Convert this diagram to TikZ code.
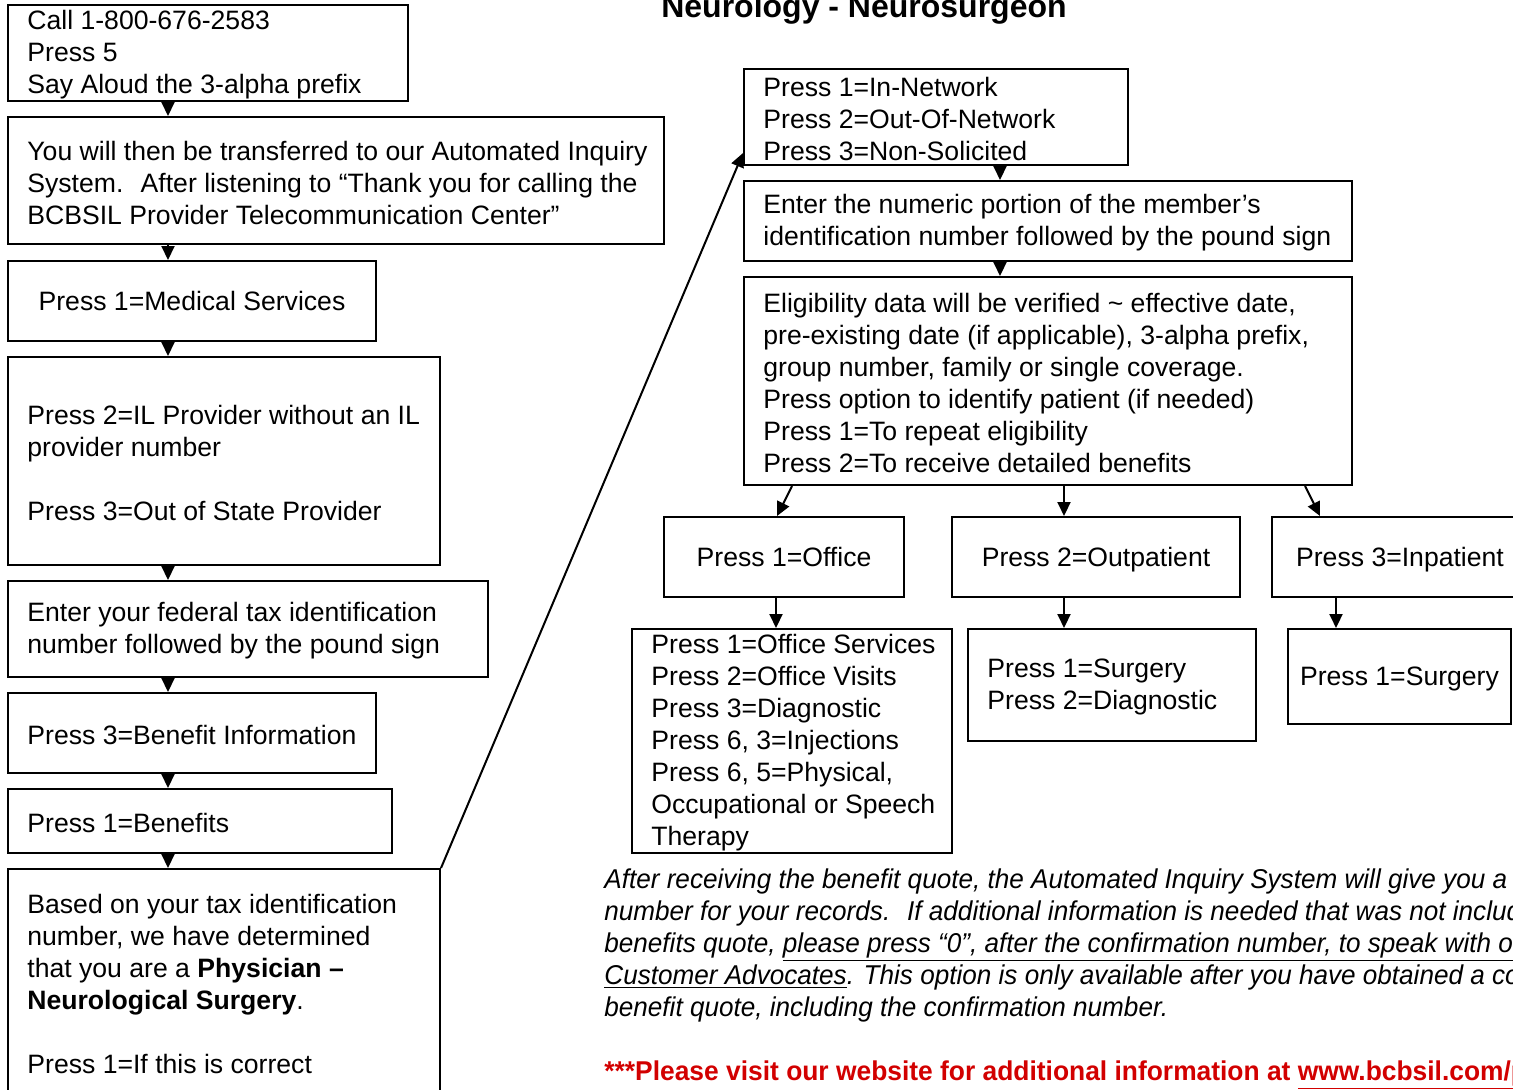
\documentclass[tikz,border=0pt]{standalone}
\usepackage{fontspec}
\setmainfont{Liberation Sans}
\newfontfamily\narrowfont{Liberation Sans}[FakeStretch=0.96]
\newfontfamily\narrowboldfont{Liberation Sans Bold}[FakeStretch=0.97]
\usetikzlibrary{arrows.meta}
\definecolor{linkred}{RGB}{210,0,0}

\begin{document}
\begin{tikzpicture}[x=0.5pt, y=-0.5pt]
    % Stili
    \tikzstyle{menubox}=[draw, line width=1pt, inner sep=0pt, align=center, text height=11.5pt, text depth=2.5pt, font=\fontsize{13.3}{16}\selectfont]
    \tikzstyle{menutext}=[inner xsep=10pt, inner ysep=0pt, yshift=-1pt, align=left, font=\fontsize{13.3}{16}\selectfont]
    \tikzstyle{flow}=[-{Triangle[length=7pt, width=6.5pt]}, line width=1pt]
    \tikzstyle{note}=[inner sep=0pt, align=left, font=\narrowfont\itshape\fontsize{13.6}{16}\selectfont]

    \useasboundingbox (0,0) rectangle (1513,1089);
    \clip (0,0) rectangle (1513,1089);

    % Titolo
    \node[anchor=base, font=\fontsize{16}{19}\selectfont\bfseries] (title) at (864,17) {Neurology - Neurosurgeon};

    % Colonna sinistra
    \node[menubox, minimum width=200pt, minimum height=48pt] (call) at (208,53) {};
    \node[menutext, anchor=west] (call-t) at (call.west) {Call 1-800-676-2583\\Press 5\\Say Aloud the 3-alpha prefix};
    \node[menubox, minimum width=328pt, minimum height=63.5pt] (inquiry) at (336,180.5) {};
    \node[menutext, anchor=west] (inquiry-t) at (inquiry.west) {You will then be transferred to our Automated Inquiry\\System.~ After listening to “Thank you for calling the\\BCBSIL Provider Telecommunication Center”};
    \node[menubox, minimum width=184pt, minimum height=40pt] (medical) at (192,301) {Press 1=Medical Services};
    \node[menubox, minimum width=216pt, minimum height=104pt] (provider) at (224,461) {};
    \node[menutext, anchor=west] (provider-t) at (provider.west) {Press 2=IL Provider without an IL\\provider number\\[16pt]Press 3=Out of State Provider};
    \node[menubox, minimum width=240pt, minimum height=48pt] (taxid) at (248,629) {};
    \node[menutext, anchor=west] (taxid-t) at (taxid.west) {Enter your federal tax identification\\number followed by the pound sign};
    \node[menubox, minimum width=184pt, minimum height=40pt] (benefit) at (192,733) {};
    \node[menutext, anchor=west] (benefit-t) at (benefit.west) {Press 3=Benefit Information};
    \node[menubox, minimum width=192pt, minimum height=32pt] (benefits) at (200,821) {};
    \node[menutext, anchor=west] (benefits-t) at (benefits.west) {Press 1=Benefits};
    \node[menubox, minimum width=216pt, minimum height=113pt] (result) at (224,982) {};
    \node[menutext, anchor=west] (result-t) at (result.west) {Based on your tax identification\\number, we have determined\\that you are a \textbf{Physician –}\\\textbf{Neurological Surgery}.\\[16pt]Press 1=If this is correct};

    % Frecce colonna sinistra
    \draw[flow] (call.south -| 168,0) -- (inquiry.north -| 168,0);
    \draw[flow] (inquiry.south -| 168,0) -- (medical.north -| 168,0);
    \draw[flow] (medical.south -| 168,0) -- (provider.north -| 168,0);
    \draw[flow] (provider.south -| 168,0) -- (taxid.north -| 168,0);
    \draw[flow] (taxid.south -| 168,0) -- (benefit.north -| 168,0);
    \draw[flow] (benefit.south -| 168,0) -- (benefits.north -| 168,0);
    \draw[flow] (benefits.south -| 168,0) -- (result.north -| 168,0);

    % Colonna destra
    \node[menubox, minimum width=192pt, minimum height=48pt] (network) at (936,117) {};
    \node[menutext, anchor=west] (network-t) at (network.west) {Press 1=In-Network\\Press 2=Out-Of-Network\\Press 3=Non-Solicited};
    \node[menubox, minimum width=304pt, minimum height=40pt] (member) at (1048,221) {};
    \node[menutext, anchor=west] (member-t) at (member.west) {Enter the numeric portion of the member’s\\identification number followed by the pound sign};
    \node[menubox, minimum width=304pt, minimum height=104pt] (elig) at (1048,381) {};
    \node[menutext, anchor=west] (elig-t) at (elig.west) {Eligibility data will be verified \textasciitilde{} effective date,\\pre-existing date (if applicable), 3-alpha prefix,\\group number, family or single coverage.\\Press option to identify patient (if needed)\\Press 1=To repeat eligibility\\Press 2=To receive detailed benefits};

    % Tipo di servizio
    \node[menubox, minimum width=120pt, minimum height=40pt] (office) at (784,557) {Press 1=Office};
    \node[menubox, minimum width=144pt, minimum height=40pt] (outpat) at (1096,557) {Press 2=Outpatient};
    \node[menubox, minimum width=128pt, minimum height=40pt] (inpat) at (1400,557) {Press 3=Inpatient};
    \node[menubox, minimum width=160pt, minimum height=112pt] (officeopt) at (792,741) {};
    \node[menutext, anchor=west] (officeopt-t) at (officeopt.west) {Press 1=Office Services\\Press 2=Office Visits\\Press 3=Diagnostic\\Press 6, 3=Injections\\Press 6, 5=Physical,\\Occupational or Speech\\Therapy};
    \node[menubox, minimum width=144pt, minimum height=56pt] (outpatopt) at (1112,685) {};
    \node[menutext, anchor=west] (outpatopt-t) at (outpatopt.west) {Press 1=Surgery\\Press 2=Diagnostic};
    \node[menubox, minimum width=111.5pt, minimum height=47.5pt] (inpatopt) at (1399.5,676.5) {Press 1=Surgery};

    % Frecce colonna destra
    \draw[flow] (result.north east) -- ([yshift=6.5pt]network.south west);
    \draw[flow] (network.south -| 1000,0) -- (member.north -| 1000,0);
    \draw[flow] (member.south -| 1000,0) -- (elig.north -| 1000,0);
    \draw[flow] (elig.south -| 792,0) -- (office.north -| 777,0);
    \draw[flow] (elig.south -| 1064,0) -- (outpat.north -| 1064,0);
    \draw[flow] (elig.south -| 1305,0) -- (inpat.north -| 1320,0);
    \draw[flow] (office.south -| 776,0) -- (officeopt.north -| 776,0);
    \draw[flow] (outpat.south -| 1064,0) -- (outpatopt.north -| 1064,0);
    \draw[flow] (inpat.south -| 1336,0) -- (inpatopt.north -| 1336,0);

    % Note finali
    \node[note, anchor=north west] (note) at (604,868) {After receiving the benefit quote, the Automated Inquiry System will give you a confirmation\\number for your records.~ If additional information is needed that was not included in the\\benefits quote, \underline{please press “0”, after the confirmation number, to speak with one of our}\\\underline{Customer Advocates}. This option is only available after you have obtained a complete\\benefit quote, including the confirmation number.};
    \node[anchor=base west, inner sep=0pt, text=linkred, font=\narrowboldfont\fontsize{13.6}{16}\selectfont] (website) at (604,1080) {***Please visit our website for additional information at \underline{www.bcbsil.com/provider}};
\end{tikzpicture}
\end{document}
